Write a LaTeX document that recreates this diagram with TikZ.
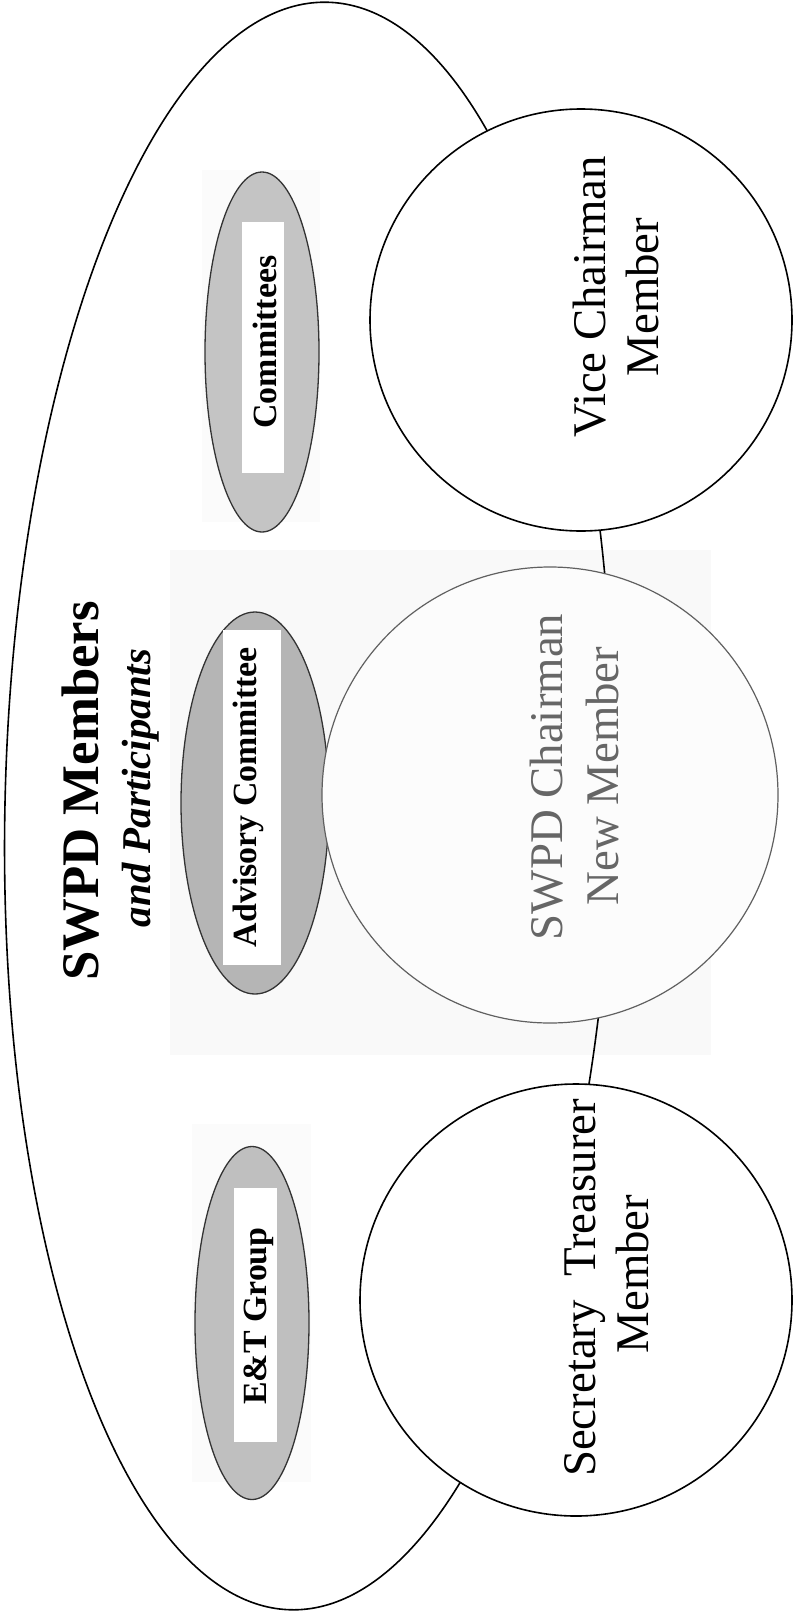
\documentclass[tikz,border=0pt]{standalone}
\usepackage{fontspec}
\setmainfont{Liberation Serif}
\usetikzlibrary{shapes.geometric}
\begin{document}
\begin{tikzpicture}[x=1bp,y=1bp,
  outline/.style={draw=black,line width=1.6bp},
  member/.style={outline,fill=white,circle,inner sep=0pt},
  patch/.style={fill=gray!5,draw=none,inner sep=0pt,rectangle},
  grp/.style={ellipse,draw=gray!40!black,line width=1.3bp,inner sep=0pt},
  whitebox/.style={fill=white,draw=none,inner sep=0pt,rectangle},
  lbl/.style={rotate=90,anchor=base,inner sep=0pt,font=\fontsize{47}{53}\selectfont},
  glbl/.style={rotate=90,anchor=base,inner sep=0pt,font=\fontsize{34}{38}\selectfont\bfseries},
]
\useasboundingbox (0,0) rectangle (794,-1619);
\fill[white] (0,0) rectangle (794,-1619);

% faint scanned patches
\node[patch,minimum width=541bp,minimum height=505bp] (patchmid) at (440.5,-802.5) {};
\node[patch,fill=gray!3,minimum width=118bp,minimum height=352bp] (patchtop) at (261,-346) {};
\node[patch,fill=gray!3,minimum width=119bp,minimum height=358bp] (patchbot) at (251.5,-1303) {};

% big outline
\node[ellipse,outline,inner sep=0pt,minimum width=608bp,minimum height=1608bp,rotate=-1.3] (members) at (309,-806) {};

% groups
\node[grp,fill=gray!46,minimum width=114bp,minimum height=360bp] (comm) at (262,-352) {};
\node[grp,fill=gray!58,minimum width=148bp,minimum height=382bp] (advis) at (255,-803) {};
\node[grp,fill=gray!50,minimum width=114bp,minimum height=353bp] (etg) at (252,-1323) {};

\node[whitebox,minimum width=42bp,minimum height=251bp] (commbox) at (263,-347.5) {};
\node[whitebox,minimum width=58bp,minimum height=335bp] (advisbox) at (252,-797.5) {};
\node[whitebox,minimum width=43bp,minimum height=254bp] (etgbox) at (255.5,-1315) {};

\node[glbl] (commtxt) at (276,-342) {Committees};
\node[glbl] (advistxt) at (256,-797) {Advisory Committee};
\node[glbl] (etgtxt) at (266,-1316) {E\&T Group};

% title
\node[rotate=90,anchor=base,inner sep=0pt,font=\fontsize{53}{60}\selectfont\bfseries] (title) at (98,-791) {SWPD Members};
\node[rotate=90,anchor=base,inner sep=0pt,font=\fontsize{41}{46}\selectfont\bfseries\itshape] (subtitle) at (150,-788) {and Participants};

% members
\node[member,minimum size=422bp] (vice) at (581,-320) {};
\node[member,draw=gray!75!black,line width=1.2bp,fill=white!98!gray,minimum size=456bp] (chair) at (550,-795) {};
\node[member,minimum size=432bp] (secr) at (576,-1300) {};

\node[lbl] (vice1) at (605,-297) {Vice Chairman};
\node[lbl] (vice2) at (658,-297) {Member};
\node[lbl,text=gray!80!black] (chair1) at (562,-777) {SWPD Chairman};
\node[lbl,text=gray!80!black] (chair2) at (618,-776) {New Member};
\node[lbl] (secr1) at (595,-1288) {Secretary\ \ Treasurer};
\node[lbl] (secr2) at (648,-1274) {Member};
\end{tikzpicture}
\end{document}
